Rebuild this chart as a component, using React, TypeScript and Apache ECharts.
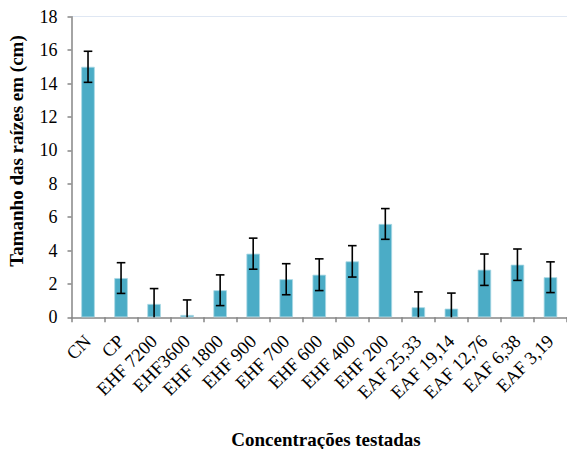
import React, { useEffect, useRef } from "react";
import * as echarts from "echarts";

const categories = [
  "CN", "CP", "EHF 7200", "EHF3600", "EHF 1800", "EHF 900", "EHF 700", "EHF 600",
  "EHF 400", "EHF 200", "EAF 25,33", "EAF 19,14", "EAF 12,76", "EAF 6,38", "EAF 3,19",
];
const means = [15.0, 2.35, 0.8, 0.14, 1.62, 3.81, 2.28, 2.55, 3.35, 5.59, 0.6, 0.52, 2.85, 3.15, 2.4];
const errors = [0.93, 0.92, 0.92, 0.9, 0.92, 0.93, 0.93, 0.95, 0.94, 0.92, 0.92, 0.93, 0.94, 0.94, 0.92];
const yTicks = [0, 2, 4, 6, 8, 10, 12, 14, 16, 18];

const FONT = "Liberation Serif";

export default function App() {
  const ref = useRef<HTMLDivElement>(null);
  useEffect(() => {
    if (!ref.current) return;
    const chart = echarts.init(ref.current, null, { renderer: "svg" });
    const errData = means.map((m, i) => [i, m - errors[i], m + errors[i]]);
    chart.setOption({
      animation: false,
      backgroundColor: "#ffffff",
      textStyle: { fontFamily: FONT },
      grid: { left: 71.5, top: 16.7, bottom: 131.7, right: -4.5, containLabel: false },
      xAxis: {
        type: "category",
        data: categories,
        boundaryGap: true,
        axisLine: { lineStyle: { color: "#868686", width: 1.5 } },
        axisTick: { show: true, length: 5, alignWithLabel: false, lineStyle: { color: "#868686", width: 1.5 } },
        axisLabel: {
          interval: 0,
          rotate: 45,
          margin: 21,
          fontFamily: FONT,
          fontSize: 18.5,
          color: "#000",
        },
      },
      yAxis: {
        type: "value",
        min: 0,
        max: 18,
        interval: 2,
        axisLine: { show: true, lineStyle: { color: "#868686", width: 1.5 } },
        axisTick: { show: true, length: 4, lineStyle: { color: "#868686", width: 1.5 } },
        axisLabel: {
          fontFamily: FONT,
          fontSize: 18,
          color: "#000",
          margin: 14,
          formatter: (v: number) => (yTicks.includes(v) ? String(v) : ""),
        },
        splitLine: {
          show: true,
          lineStyle: {
            color: ["transparent", "transparent", "transparent", "transparent", "transparent",
              "transparent", "transparent", "transparent", "transparent", "#dfe7f3"],
          },
        },
      },
      graphic: [
        {
          type: "text",
          x: 16.6,
          y: 151,
          rotation: Math.PI / 2,
          style: {
            text: "Tamanho das raízes em (cm)",
            fontFamily: FONT,
            fontSize: 19,
            fontWeight: "bold",
            fill: "#000",
            align: "center",
            verticalAlign: "middle",
          },
        },
        {
          type: "text",
          x: 326,
          y: 439.5,
          style: {
            text: "Concentrações testadas",
            fontFamily: FONT,
            fontSize: 19,
            fontWeight: "bold",
            fill: "#000",
            align: "center",
            verticalAlign: "middle",
          },
        },
      ],
      series: [
        {
          type: "bar",
          data: means,
          barWidth: 13.5,
          itemStyle: { color: "#4BACC6", borderColor: "#a9d8e5", borderWidth: 0.8 },
        },
        {
          type: "custom",
          data: errData,
          z: 10,
          renderItem: (params: any, api: any) => {
            const x = api.value(0);
            const loV = api.value(1);
            const clipped = loV < 0;
            const lo = api.coord([x, clipped ? 0 : loV]);
            const hi = api.coord([x, api.value(2)]);
            const hw = 4.3;
            const style = { stroke: "#000", lineWidth: 1.6 };
            const children: any[] = [
              { type: "line", shape: { x1: lo[0], y1: lo[1], x2: hi[0], y2: hi[1] }, style },
              { type: "line", shape: { x1: hi[0] - hw, y1: hi[1], x2: hi[0] + hw, y2: hi[1] }, style },
            ];
            if (!clipped) {
              children.push({ type: "line", shape: { x1: lo[0] - hw, y1: lo[1], x2: lo[0] + hw, y2: lo[1] }, style });
            }
            return { type: "group", children };
          },
        },
      ],
    });
    return () => chart.dispose();
  }, []);
  return <div ref={ref} style={{ width: 567, height: 449, position: "absolute", left: 0, top: 0 }} />;
}
